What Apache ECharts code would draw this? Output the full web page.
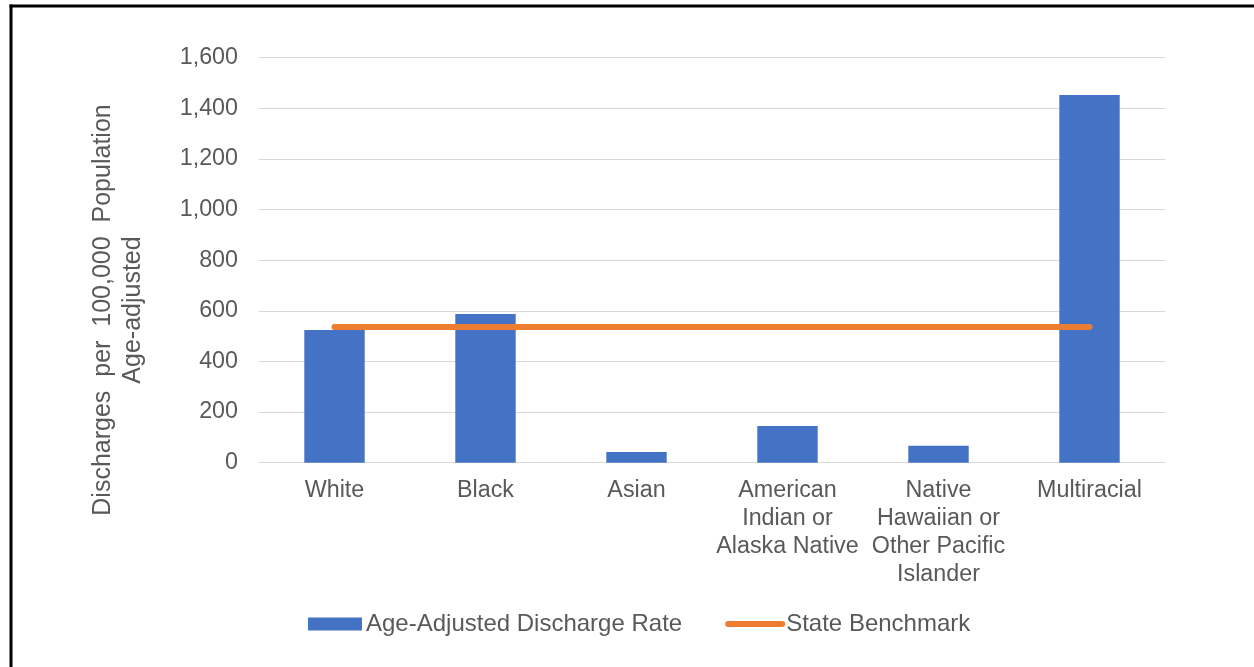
<!DOCTYPE html>
<html>
<head>
<meta charset="utf-8">
<script src="https://cdn.jsdelivr.net/npm/echarts@6/dist/echarts.min.js"></script>
<style>
html,body{margin:0;padding:0;background:#fff;}
#chart{width:1254px;height:667px;}
</style>
</head>
<body>
<div id="chart"></div>
<script>
const categories = ['White', 'Black', 'Asian', 'American\nIndian or\nAlaska Native', 'Native\nHawaiian or\nOther Pacific\nIslander', 'Multiracial'];
const dischargeRate = [524, 587, 42, 145, 67, 1452];
const stateBenchmark = [536, 536, 536, 536, 536, 536];
const yTicks = { min: 0, max: 1600, interval: 200 };
const seriesNames = ['Age-Adjusted Discharge Rate', 'State Benchmark'];
const yTitle = 'Discharges  per  100,000  Population\nAge-adjusted';

const FONT = '"Liberation Sans", Arial, sans-serif';
const TXT = '#595959';
const chart = echarts.init(document.getElementById('chart'), null, {renderer: 'canvas'});
chart.setOption({
  animation: false,
  backgroundColor: '#ffffff',
  textStyle: { fontFamily: FONT },
  grid: { left: 259, right: 89, top: 57.5, bottom: 204.3 },
  xAxis: {
    type: 'category',
    data: categories,
    axisLine: { lineStyle: { color: '#d9d9d9', width: 1 } },
    axisTick: { show: false },
    axisLabel: { color: TXT, fontSize: 23.3, fontFamily: FONT, margin: 14, lineHeight: 28, interval: 0 }
  },
  yAxis: {
    type: 'value',
    min: yTicks.min, max: yTicks.max, interval: yTicks.interval,
    axisLine: { show: false },
    axisTick: { show: false },
    splitLine: { lineStyle: { color: '#d9d9d9', width: 1 } },
    axisLabel: {
      color: TXT, fontSize: 23.3, fontFamily: FONT, margin: 21,
      formatter: v => v.toLocaleString('en-US')
    }
  },
  legend: {
    left: 303, top: 607,
    itemGap: 43,
    itemWidth: 54, itemHeight: 13,
    textStyle: { color: TXT, fontSize: 24, fontFamily: FONT, padding: [0,0,0,-1] },
    data: [
      { name: seriesNames[0], icon: 'rect' },
      { name: seriesNames[1], itemStyle: { opacity: 0 }, lineStyle: { width: 6, cap: 'round', color: '#ED7D31' } }
    ]
  },
  series: [
    {
      name: seriesNames[0],
      type: 'bar',
      data: dischargeRate,
      barWidth: '40%',
      itemStyle: { color: '#4472C4' }
    },
    {
      name: seriesNames[1],
      type: 'line',
      data: stateBenchmark,
      symbol: 'none',
      lineStyle: { color: '#ED7D31', width: 6, cap: 'round' },
      itemStyle: { color: '#ED7D31' }
    }
  ],
  graphic: [
    { type: 'text', x: 118, y: 310, rotation: Math.PI / 2,
      style: { text: yTitle, font: '25px "Liberation Sans", Arial, sans-serif', fill: TXT,
               textAlign: 'center', textVerticalAlign: 'middle', lineHeight: 30 } },
    { type: 'line', shape: { x1: 9.5, y1: 6, x2: 1254, y2: 6 }, style: { stroke: '#000', lineWidth: 3 } },
    { type: 'line', shape: { x1: 11, y1: 4.5, x2: 11, y2: 667 }, style: { stroke: '#000', lineWidth: 3 } }
  ]
});
</script>
</body>
</html>
